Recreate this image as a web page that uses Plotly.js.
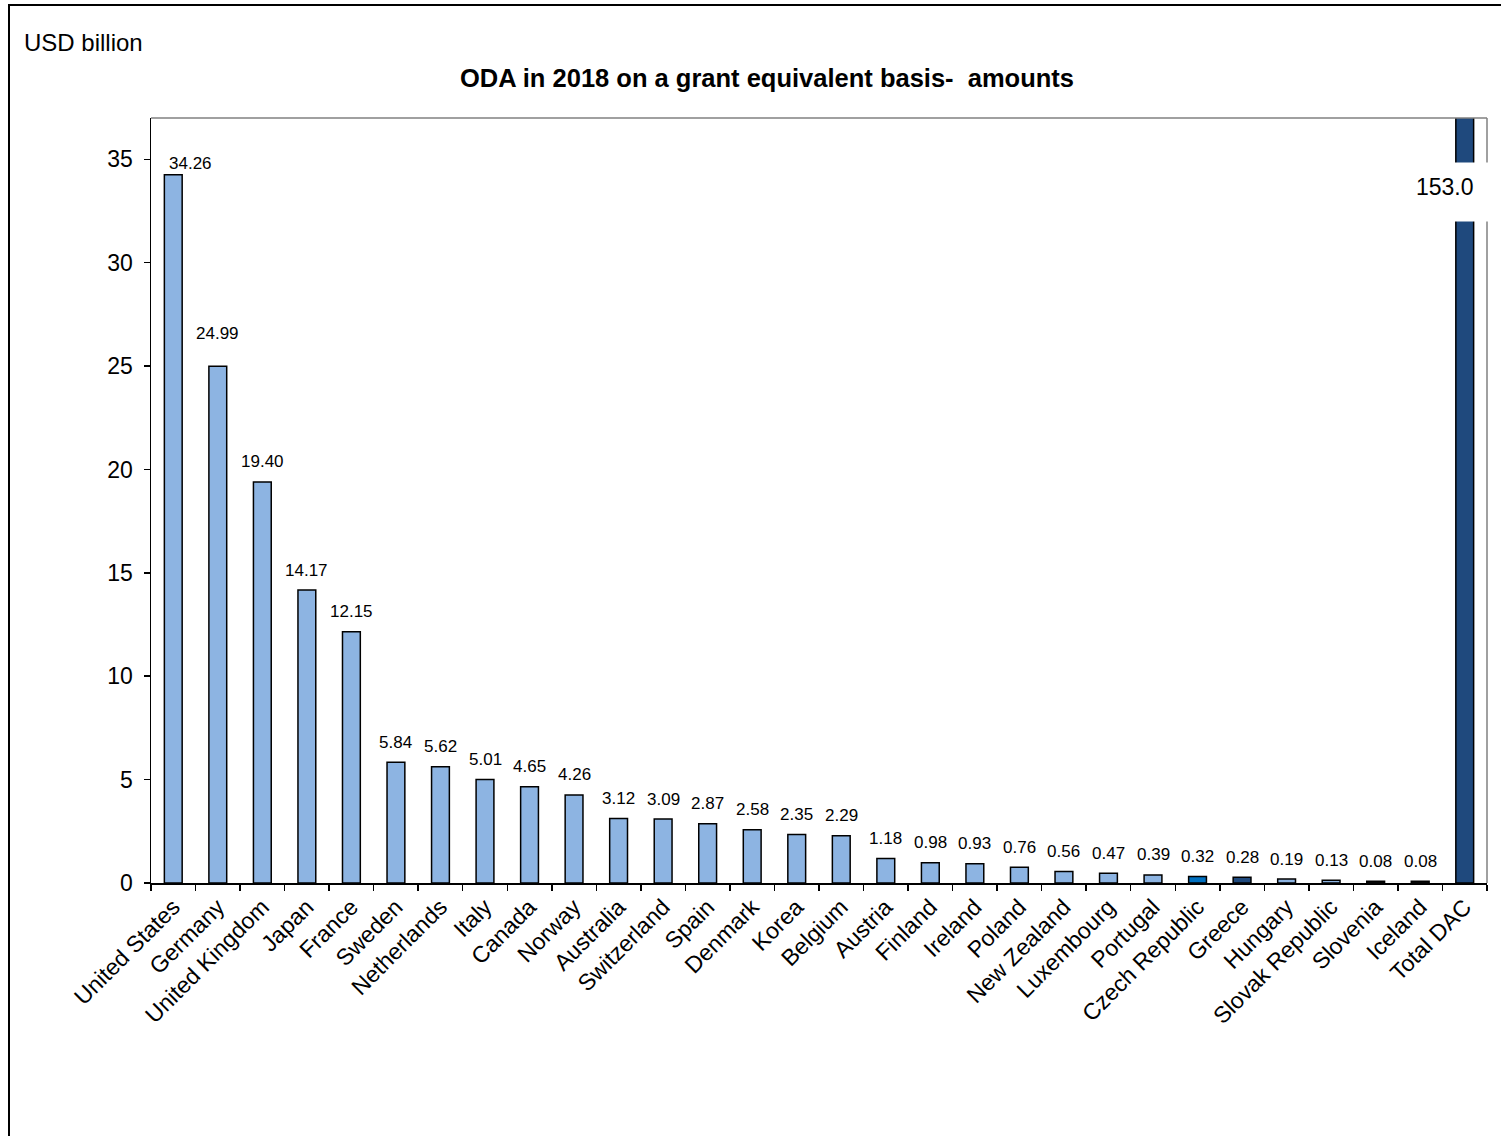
<!DOCTYPE html>
<html>
<head>
<meta charset="utf-8">
<script src="https://cdn.plot.ly/plotly-3.0.1.min.js"></script>
<style>
html,body{margin:0;padding:0;background:#fff;}
#chart{width:1501px;height:1136px;}
#frame{position:absolute;left:8px;top:4px;width:1600px;height:1200px;border-left:2px solid #000;border-top:2px solid #000;pointer-events:none;}
</style>
</head>
<body>
<div id="chart"></div>
<div id="frame"></div>
<script>
const countries = ["United States","Germany","United Kingdom","Japan","France","Sweden","Netherlands","Italy","Canada","Norway","Australia","Switzerland","Spain","Denmark","Korea","Belgium","Austria","Finland","Ireland","Poland","New Zealand","Luxembourg","Portugal","Czech Republic","Greece","Hungary","Slovak Republic","Slovenia","Iceland","Total DAC"];
const values = [34.26,24.99,19.40,14.17,12.15,5.84,5.62,5.01,4.65,4.26,3.12,3.09,2.87,2.58,2.35,2.29,1.18,0.98,0.93,0.76,0.56,0.47,0.39,0.32,0.28,0.19,0.13,0.08,0.08,153.0];
const labels = ["34.26","24.99","19.40","14.17","12.15","5.84","5.62","5.01","4.65","4.26","3.12","3.09","2.87","2.58","2.35","2.29","1.18","0.98","0.93","0.76","0.56","0.47","0.39","0.32","0.28","0.19","0.13","0.08","0.08",""];
const totalLabel = "153.0";

const colors = countries.map(c => {
  if (c === "Czech Republic") return "#0070C0";
  if (c === "Greece") return "#1F497D";
  if (c === "Slovenia" || c === "Iceland") return "#1a1a1a";
  if (c === "Total DAC") return "#1F497D";
  return "#8DB4E2";
});

const trace = {
  type: "bar",
  x: countries,
  y: values,
  marker: {color: colors, line: {color: "#000", width: 1.5}},
  width: 0.4,
  hoverinfo: "x+y"
};

// value labels placed through the axes, with small per-label offsets like the original
const labelAnnotations = countries.map((c, i) => {
  let xs = 0, ys = 20;
  if (c === "United States") { xs = 17; ys = 11; }
  if (c === "Germany") { ys = 33; }
  return {
    text: labels[i], xref: "x", yref: "y", x: c, y: Math.min(values[i], 37),
    xanchor: "center", yanchor: "middle", xshift: xs, yshift: ys,
    showarrow: false, font: {size: 17, color: "#000"}
  };
}).filter(a => a.text !== "");

const layout = {
  width: 1501, height: 1136,
  margin: {l: 151, r: 14, t: 118, b: 253},
  paper_bgcolor: "#fff", plot_bgcolor: "#fff",
  font: {family: "Liberation Sans, Arial, sans-serif", color: "#000"},
  title: {text: "<b>ODA in 2018 on a grant equivalent basis-  amounts</b>", x: 0.511, xanchor: "center", y: 0.931, yanchor: "middle", font: {size: 25.5, color: "#000"}},
  showlegend: false,
  xaxis: {
    type: "category",
    tickangle: -45,
    tickson: "boundaries",
    ticks: "outside", ticklen: 6, tickcolor: "#000", tickwidth: 1.5,
    showline: true, linecolor: "#000", linewidth: 1.5,
    mirror: false,
    tickfont: {size: 23, color: "#000"},
    showgrid: false,
    automargin: false
  },
  yaxis: {
    range: [0, 37],
    tickvals: [0,5,10,15,20,25,30,35],
    ticks: "outside", ticklen: 6, tickcolor: "#000", tickwidth: 1.5,
    ticklabelstandoff: 6,
    showline: true, linecolor: "#000", linewidth: 1.5,
    tickfont: {size: 23, color: "#000"},
    showgrid: false, zeroline: false,
    automargin: false
  },
  shapes: [
    {type: "line", xref: "paper", yref: "paper", x0: 0, x1: 1, y0: 1, y1: 1, line: {color: "#808080", width: 1.5}},
    {type: "line", xref: "paper", yref: "paper", x0: 1, x1: 1, y0: 0, y1: 1, line: {color: "#808080", width: 1.5}},
    {type: "rect", xref: "paper", yref: "y", x0: 0.93, x1: 1.02, y0: 32.0, y1: 34.85, fillcolor: "#fff", line: {width: 0}, layer: "above"}
  ],
  annotations: [
    {text: "USD billion", xref: "paper", yref: "paper", x: -0.0965, y: 1.0985, xanchor: "left", yanchor: "middle", showarrow: false, font: {size: 24, color: "#000"}},
    {text: totalLabel, xref: "x", yref: "y", x: "Total DAC", y: 33.65, xanchor: "center", yanchor: "middle", xshift: -20, showarrow: false, font: {size: 23, color: "#000"}}
  ].concat(labelAnnotations)
};

Plotly.newPlot("chart", [trace], layout, {displayModeBar: false, staticPlot: true});
</script>
</body>
</html>
